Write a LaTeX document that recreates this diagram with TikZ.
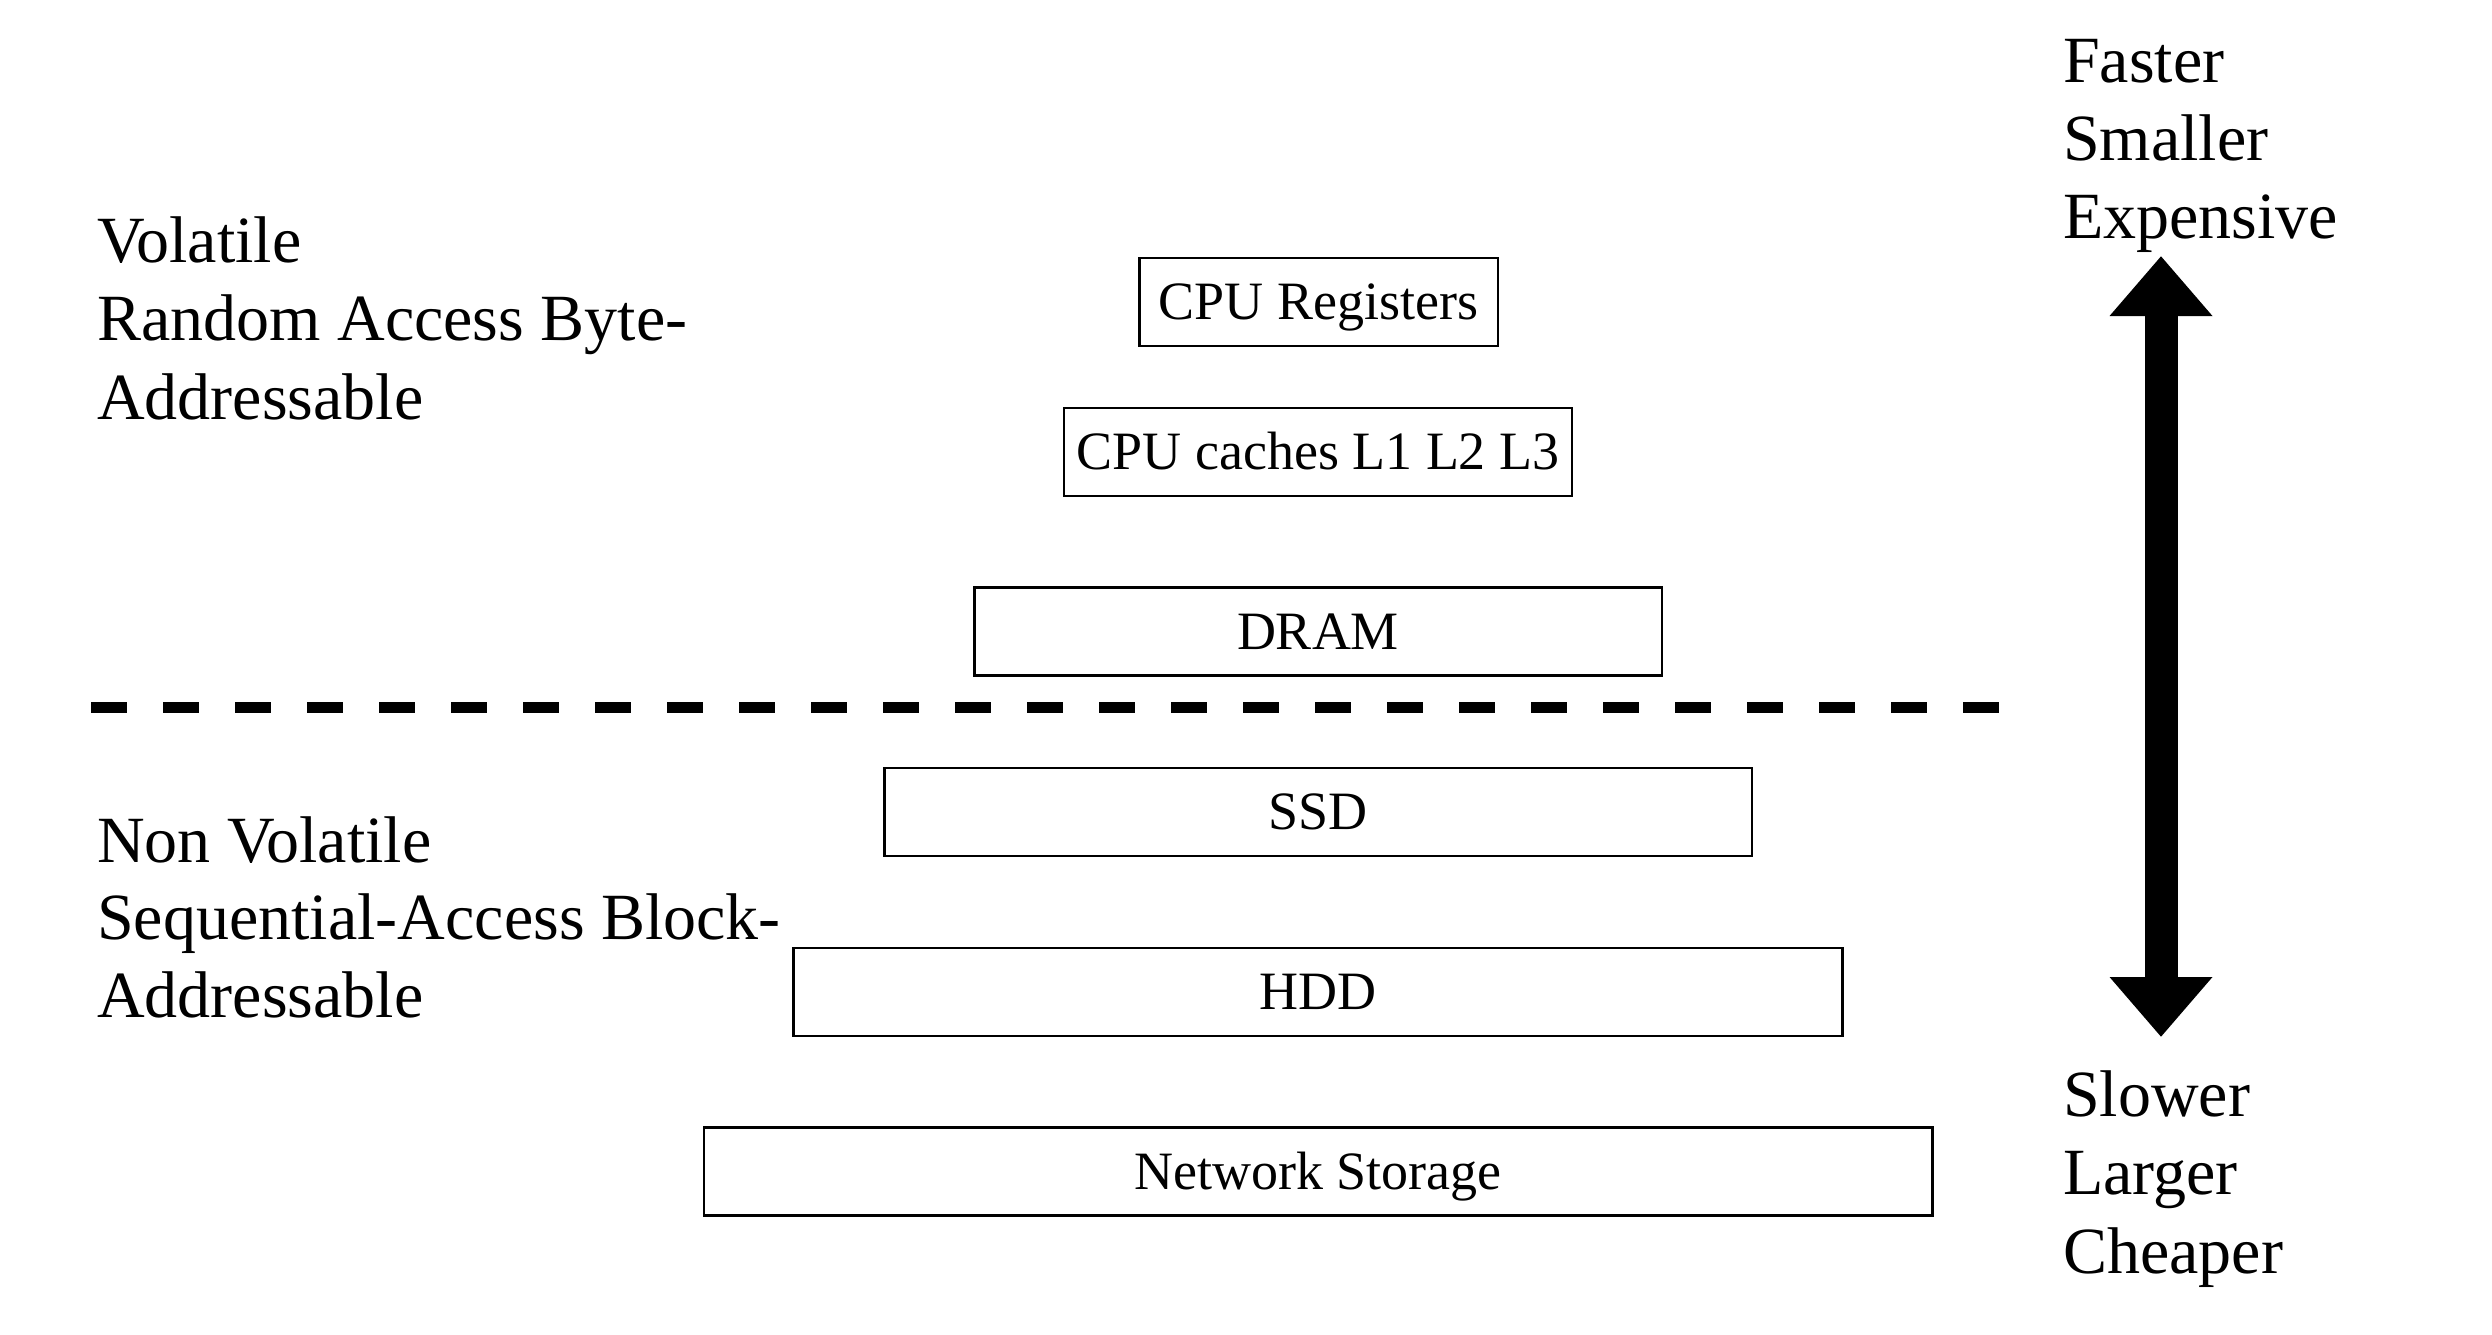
\documentclass[tikz,border=0pt]{standalone}
\usepackage{fontspec}
\setmainfont{Liberation Serif}
\usetikzlibrary{arrows.meta}
\tikzset{
  membox/.style={draw=black, line width=2.5pt, inner sep=0pt, minimum height=88pt,
    font=\fontsize{54}{60}\selectfont, text height=35.4pt, text depth=0pt},
  sidelabel/.style={anchor=base west, inner sep=0pt, font=\fontsize{66}{78}\selectfont},
  divider/.style={line width=11pt, dash pattern=on 36pt off 36pt},
  bigarrow/.style={line width=33pt, {Triangle[length=60pt,width=99pt]}-{Triangle[length=60pt,width=99pt]}}
}
\begin{document}
\begin{tikzpicture}[x=1pt,y=-1pt]
\useasboundingbox (0,0) rectangle (2492,1334);
% boxes
\node[membox, minimum width=358.5pt] (reg) at (1318.5,302) {CPU Registers};
\node[membox, minimum width=508pt] (cache) at (1318,451.8) {CPU caches L1 L2 L3};
\node[membox, minimum width=687.5pt] (dram) at (1318,631.7) {DRAM};
\node[membox, minimum width=867.5pt] (ssd) at (1318,811.8) {SSD};
\node[membox, minimum width=1049pt] (hdd) at (1318,992) {HDD};
\node[membox, minimum width=1228.5pt] (net) at (1318,1171.5) {Network Storage};
% divider
\coordinate (dl) at (91,707);
\coordinate (dr) at (1999,707);
\draw[divider] (dl) -- (dr);
% left labels
\node[sidelabel] (v1) at (97,262) {Volatile};
\node[sidelabel] (v2) at (97,340.5) {Random Access Byte-};
\node[sidelabel] (v3) at (97,419) {Addressable};
\node[sidelabel] (n1) at (97,862) {Non Volatile};
\node[sidelabel] (n2) at (97,939.5) {Sequential-Access Block-};
\node[sidelabel] (n3) at (97,1017) {Addressable};
% right labels
\node[sidelabel] (f1) at (2063,82) {Faster};
\node[sidelabel] (f2) at (2063,160) {Smaller};
\node[sidelabel] (f3) at (2063,238) {Expensive};
\node[sidelabel] (s1) at (2063,1116) {Slower};
\node[sidelabel] (s2) at (2063,1194.5) {Larger};
\node[sidelabel] (s3) at (2063,1273) {Cheaper};
% arrow
\coordinate (atop) at (2161,256);
\coordinate (abot) at (2161,1037);
\draw[bigarrow] (atop) -- (abot);
\end{tikzpicture}
\end{document}
